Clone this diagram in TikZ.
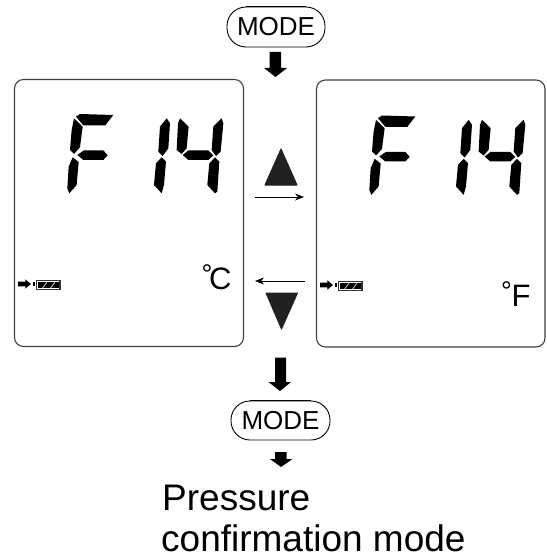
\documentclass[tikz,border=0pt]{standalone}
\usepackage{fontspec}
\setmainfont{Liberation Sans}
\usetikzlibrary{arrows.meta}
\tikzset{
  seg/.style={fill=black,draw=none},
  panel/.style={draw=black!75,line width=1.1pt,rounded corners=9pt,fill=white},
  arr/.style={fill=black,draw=none},
  tri/.style={fill=black!87,draw=black!87,line width=1pt,line join=round},
  thinarrow/.style={draw=black,line width=0.7pt,-{Stealth[length=9pt,width=7pt]}},
  pill/.style={draw=black,line width=0.9pt,rounded corners=19pt},
  pilltop/.style={draw=black,line width=1.5pt}
}
\newcommand{\lcd}{%
  \fill[seg] (228,140)--(240,132)--(340,135)--(316,166)--(250,166)--cycle;
  \fill[seg] (222,145)--(248,170)--(240,232)--(222,252)--(210,240)--(215,180)--cycle;
  \fill[seg] (232,255)--(252,241)--(310,241)--(323,256)--(310,270)--(250,270)--cycle;
  \fill[seg] (218,262)--(236,276)--(230,345)--(208,370)--(202,355)--(206,290)--cycle;
  \fill[seg] (500,145)--(510,160)--(505,235)--(488,258)--(475,245)--(480,170)--cycle;
  \fill[seg] (485,262)--(498,275)--(492,345)--(485,370)--(462,345)--(468,280)--cycle;
  \fill[seg] (540,145)--(566,170)--(560,235)--(545,252)--(530,240)--(534,160)--cycle;
  \fill[seg] (548,255)--(566,241)--(625,241)--(640,256)--(625,270)--(565,270)--cycle;
  \fill[seg] (665,145)--(670,160)--(662,245)--(648,258)--(635,240)--(640,170)--cycle;
  \fill[seg] (645,262)--(658,275)--(652,365)--(645,370)--(622,345)--(628,280)--cycle;
}
\newcommand{\batt}{%
  \fill[arr] (54,95)--(76,95)--(76,88)--(93,102)--(76,116)--(76,109)--(54,109)--cycle;
  \draw[black,line width=0.6pt] (99,97) rectangle (104,107);
  \fill[black!80] (107,89) rectangle (182,120);
  \fill[white] (111,93) rectangle (178,116);
  \fill[black] (113,95) rectangle (176,114);
  \draw[white,line width=0.6pt] (128,114)--(142,95) (152,114)--(166,95);
}
\newcommand{\ring}{\raisebox{6pt}{\fontsize{27}{30}\selectfont °}}
\begin{document}
\begin{tikzpicture}[x=1pt,y=-1pt]
\useasboundingbox (0,0) rectangle (546,556);
\draw[panel] (14.5,79.5) rectangle (243.5,346.5);
\draw[panel] (316.5,80) rectangle (545,347);
\begin{scope}[shift={(0,70)},x=0.3333pt,y=-0.3333pt]
\lcd
\end{scope}
\begin{scope}[shift={(302,71.5)},x=0.3333pt,y=-0.3333pt]
\lcd
\end{scope}
\begin{scope}[shift={(0,250)},x=0.3333pt,y=-0.3333pt]
\batt
\end{scope}
\begin{scope}[shift={(302,251)},x=0.3333pt,y=-0.3333pt]
\batt
\end{scope}
% MODE pills
\node[pill,minimum width=98pt,minimum height=40pt,inner sep=0pt,font=\fontsize{26}{30}\selectfont] (m1) at (276,27) {MODE};
\node[pill,minimum width=99pt,minimum height=39pt,inner sep=0pt,font=\fontsize{26}{30}\selectfont] (m2) at (280.5,420.5) {MODE};
\draw[pilltop] ([xshift=19pt]m1.north west)--([xshift=-19pt]m1.north east);
\draw[pilltop] ([xshift=19pt]m2.north west)--([xshift=-19pt]m2.north east);
% block arrows
\fill[arr] (269.5,52)--(281,52)--(281,68)--(287,68)--(275.5,77)--(264,68)--(269.5,68)--cycle;
\fill[arr] (275,357.5)--(286,357.5)--(286,382)--(291,382)--(280,391)--(268.5,382)--(275,382)--cycle;
\fill[arr] (275,452)--(286.5,452)--(286.5,459)--(292.5,459)--(281,467)--(270,459)--(275,459)--cycle;
% triangles
\fill[tri] (281,149)--(297,185)--(265,185)--cycle;
\fill[tri] (266,293)--(297.5,293)--(281.5,329)--cycle;
% thin arrows
\coordinate (a1s) at (255,197); \coordinate (a1e) at (304,197);
\coordinate (a2s) at (305,281); \coordinate (a2e) at (255,281);
\draw[thinarrow] (a1s)--(a1e);
\draw[thinarrow] (a2s)--(a2e);
% unit labels
\node[anchor=base west,inner sep=0pt,font=\fontsize{31}{36}\selectfont] (uc) at (201.5,289) {\ring\kern-3.3pt C};
\node[anchor=base west,inner sep=0pt,font=\fontsize{31}{36}\selectfont] (uf) at (501,306.7) {\ring\kern-0.3pt F};
\node[anchor=base west,inner sep=0pt,font=\fontsize{37}{44}\selectfont] (t1) at (162,510) {Pressure};
\node[anchor=base west,inner sep=0pt,font=\fontsize{37}{44}\selectfont] (t2) at (161,551) {confirmation mode};
\end{tikzpicture}
\end{document}
